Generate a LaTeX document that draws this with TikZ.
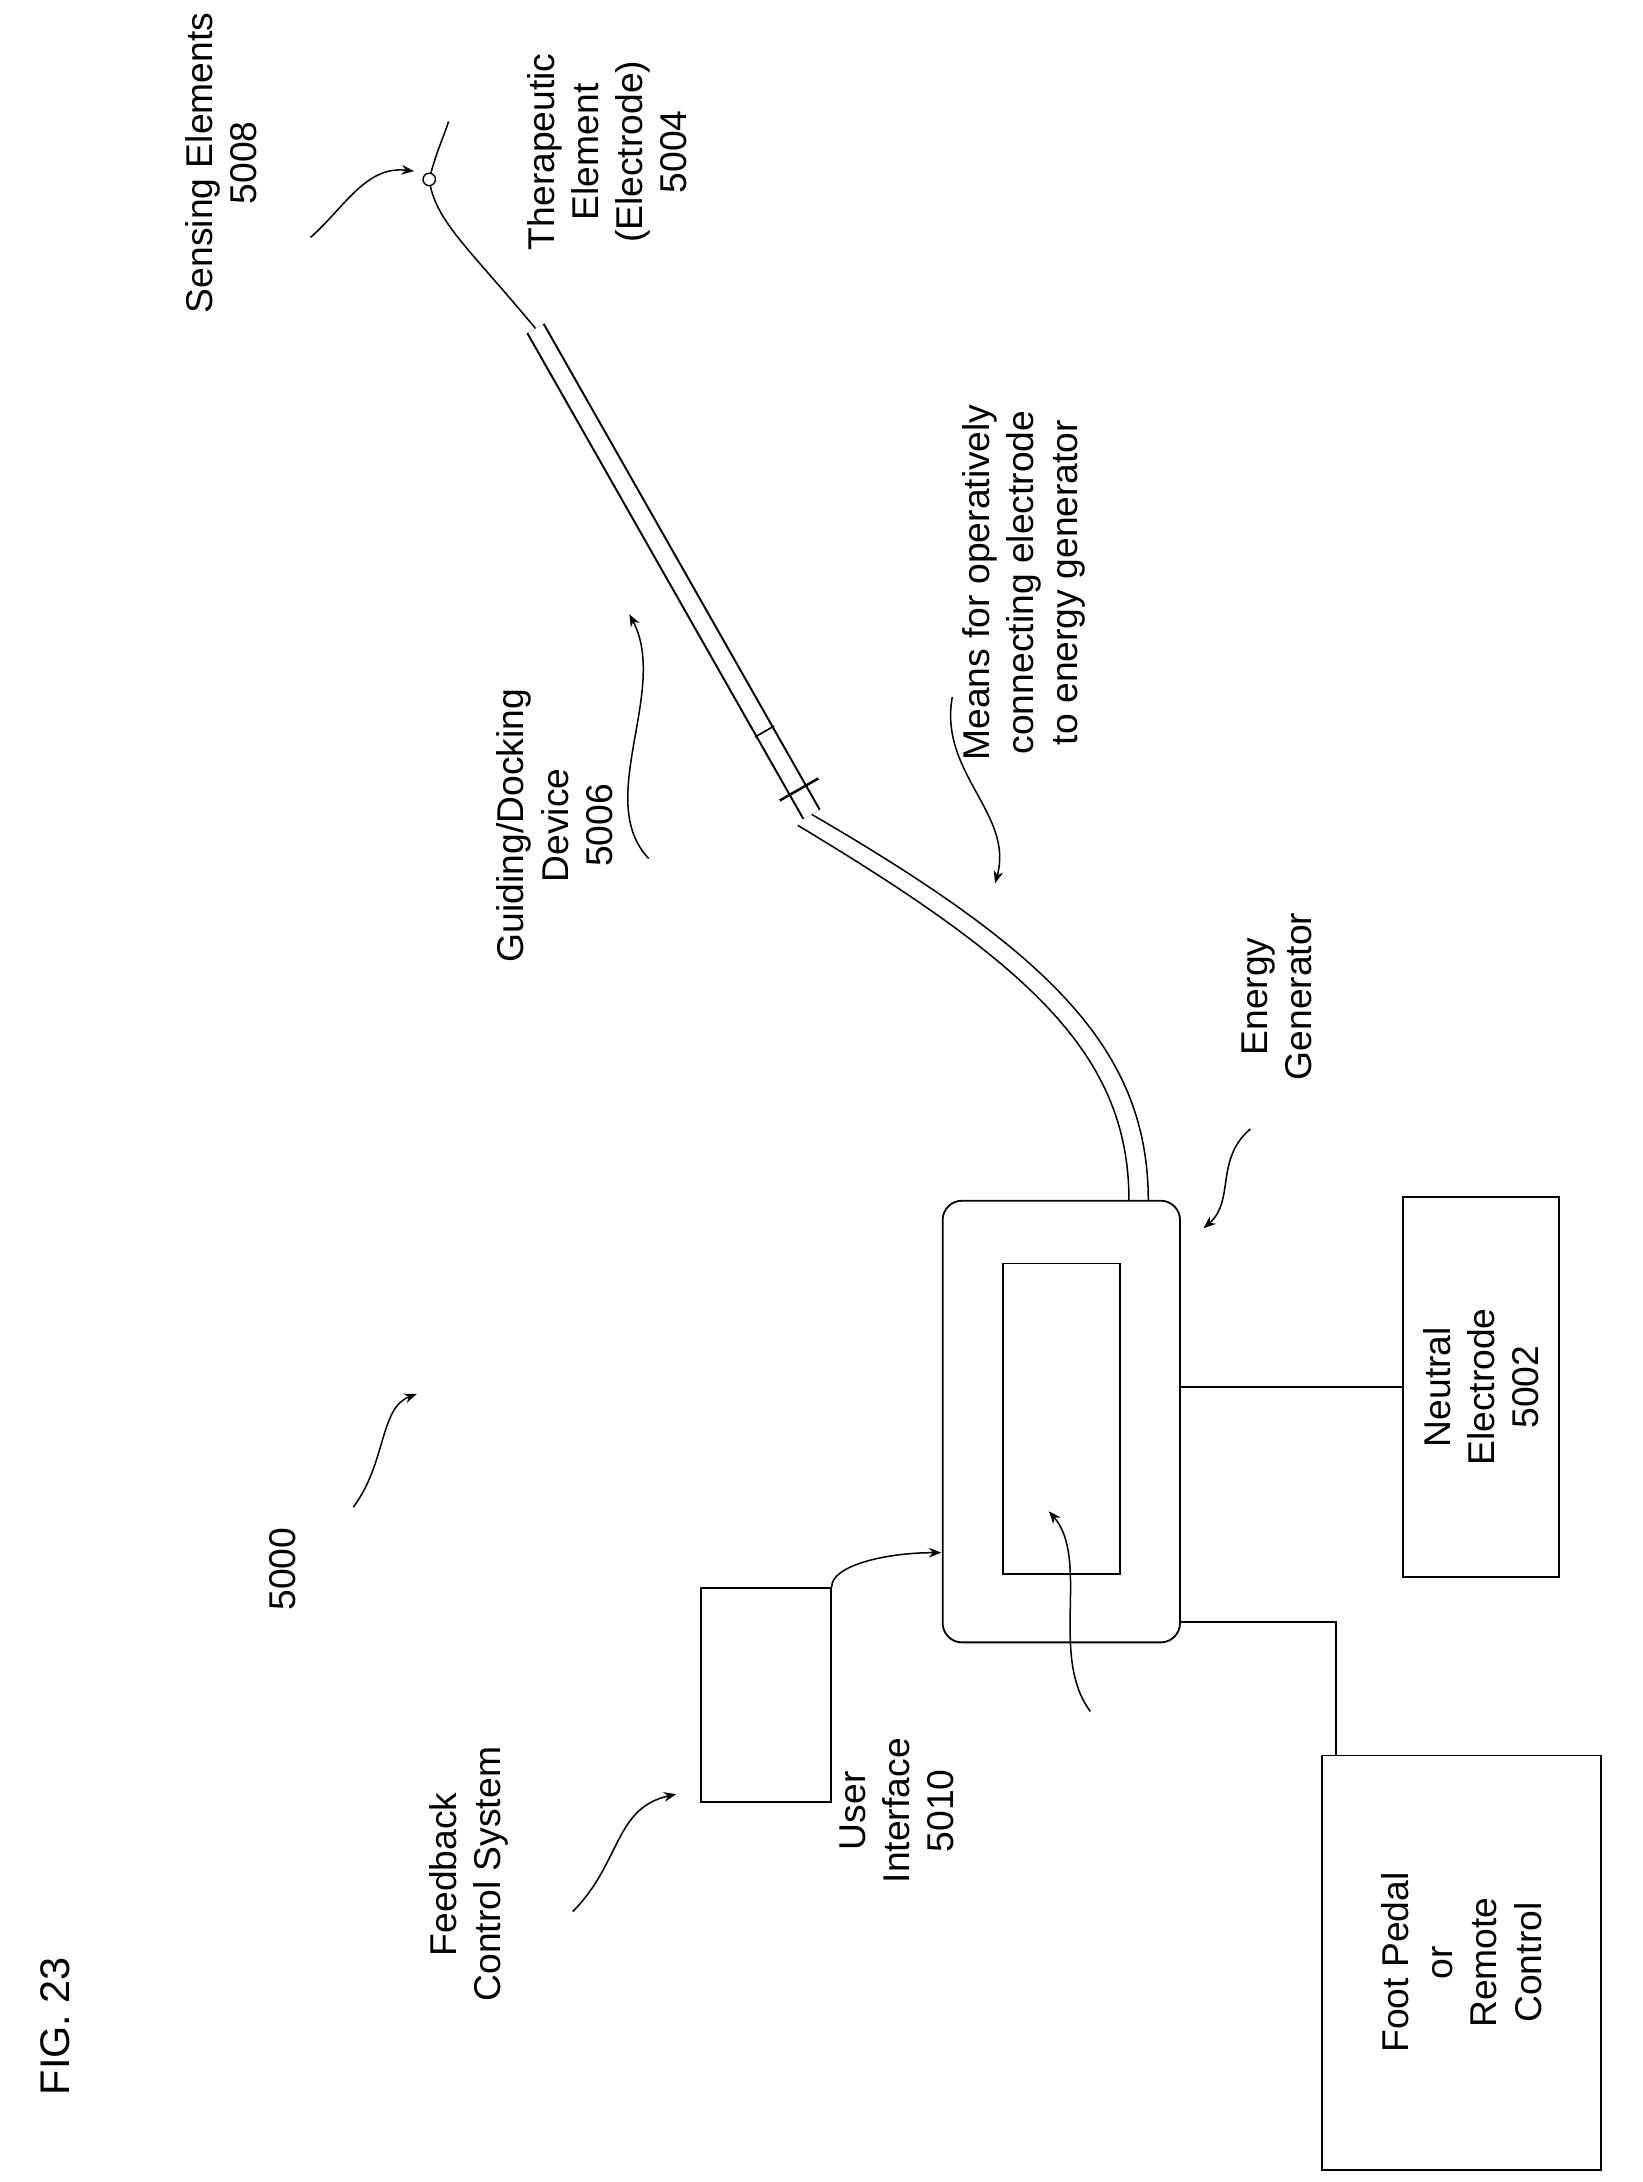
\documentclass[tikz,border=0pt]{standalone}
\usepackage{fontspec}
\setmainfont{Liberation Sans}
\usetikzlibrary{arrows.meta}
\tikzset{
  lbl/.style={rotate=90, align=center, font=\fontsize{27}{32}\selectfont, inner sep=0pt},
  box/.style={draw, line width=1.3pt},
  wire/.style={line width=1.3pt},
  sq/.style={line width=1.1pt, -{Stealth[length=9pt,width=7pt]}}
}
\begin{document}
\begin{tikzpicture}[x=1pt,y=-1pt]
  \useasboundingbox (0,0) rectangle (1190,1581);
  % boxes
  \node[box, rounded corners=14pt, minimum width=172pt, minimum height=320pt] (gen) at (769,1030) {};
  \node[box, minimum width=85pt, minimum height=225pt] (ui) at (769,1028) {};
  \node[box, minimum width=94pt, minimum height=155pt] (fb) at (555,1228) {};
  \node[box, minimum width=113pt, minimum height=275pt] (ne) at (1073,1005) {};
  \node[box, minimum width=202pt, minimum height=300pt] (fp) at (1059,1422) {};
  \node[lbl] at (ne) {Neutral\\Electrode\\5002};
  \node[lbl] at (fp) {Foot Pedal\\or\\Remote\\Control};
  % connections
  \draw[wire] (gen.east |- ne.west) -- (ne.west);
  \coordinate (fpk) at (968,1175);
  \draw[wire] (gen.east |- fpk) -- (fpk) -- (fpk |- fp.north);
  % cable and handle
  \coordinate (cab0) at (832,870);
  \coordinate (hb) at (588,590);
  \coordinate (ht) at (388,238);
  \coordinate (sens) at (311,130);
  \draw[line width=1.1pt] (cab0) .. controls (832,760) and (760,690) .. (hb);
  \draw[line width=1.1pt] (818,870) .. controls (818,765) and (748,700) .. (578,598);
  \draw[line width=15pt] (hb) -- (ht);
  \draw[line width=12pt, white] (hb) -- (ht);
  \draw[line width=1.2pt] (547,534) -- (561,526);
  \draw[line width=1.8pt] (565,580) -- (593,564);
  \draw[line width=1.1pt] (ht) .. controls (340,180) and (315,160) .. (sens);
  \draw[line width=1.1pt] (sens) .. controls (316,110) and (322,98) .. (325,88);
  \draw[line width=1pt, fill=white] (sens) circle (4.5pt);
  % labels
  \node[lbl] (l5008) at (160,118) {Sensing Elements\\5008};
  \node[lbl] (l5004) at (440,110) {Therapeutic\\Element\\(Electrode)\\5004};
  \node[lbl] (lmeans) at (742,422) {Means for operatively\\connecting electrode\\to energy generator};
  \node[lbl] (l5006) at (402,598) {Guiding/Docking\\Device\\5006};
  \node[lbl] (leg) at (925,722) {Energy\\Generator};
  \node[lbl] (l5000) at (205,1137) {5000};
  \node[lbl] (lfb) at (340,1358) {Feedback\\Control System};
  \node[lbl] (lui) at (650,1312) {User\\Interface\\5010};
  \node[lbl, font=\fontsize{30}{34}\selectfont] (fig) at (40,1468) {FIG. 23};
  % squiggle arrows
  \draw[sq] (225,172) .. controls (250,150) and (265,120) .. (300,124);
  \draw[sq] (470,622) .. controls (430,580) and (485,500) .. (456,445);
  \draw[sq] (690,505) .. controls (680,560) and (735,590) .. (721,640);
  \draw[sq] (906,818) .. controls (880,840) and (895,870) .. (872,890);
  \draw[sq] (256,1092) .. controls (280,1060) and (275,1020) .. (302,1010);
  \draw[sq] (415,1385) .. controls (450,1350) and (445,1310) .. (490,1300);
  \draw[sq] (790,1240) .. controls (760,1200) and (790,1130) .. (760,1095);
  \draw[sq] (fb.north east) .. controls (602,1135) and (640,1125) .. (682,1125);
\end{tikzpicture}
\end{document}
